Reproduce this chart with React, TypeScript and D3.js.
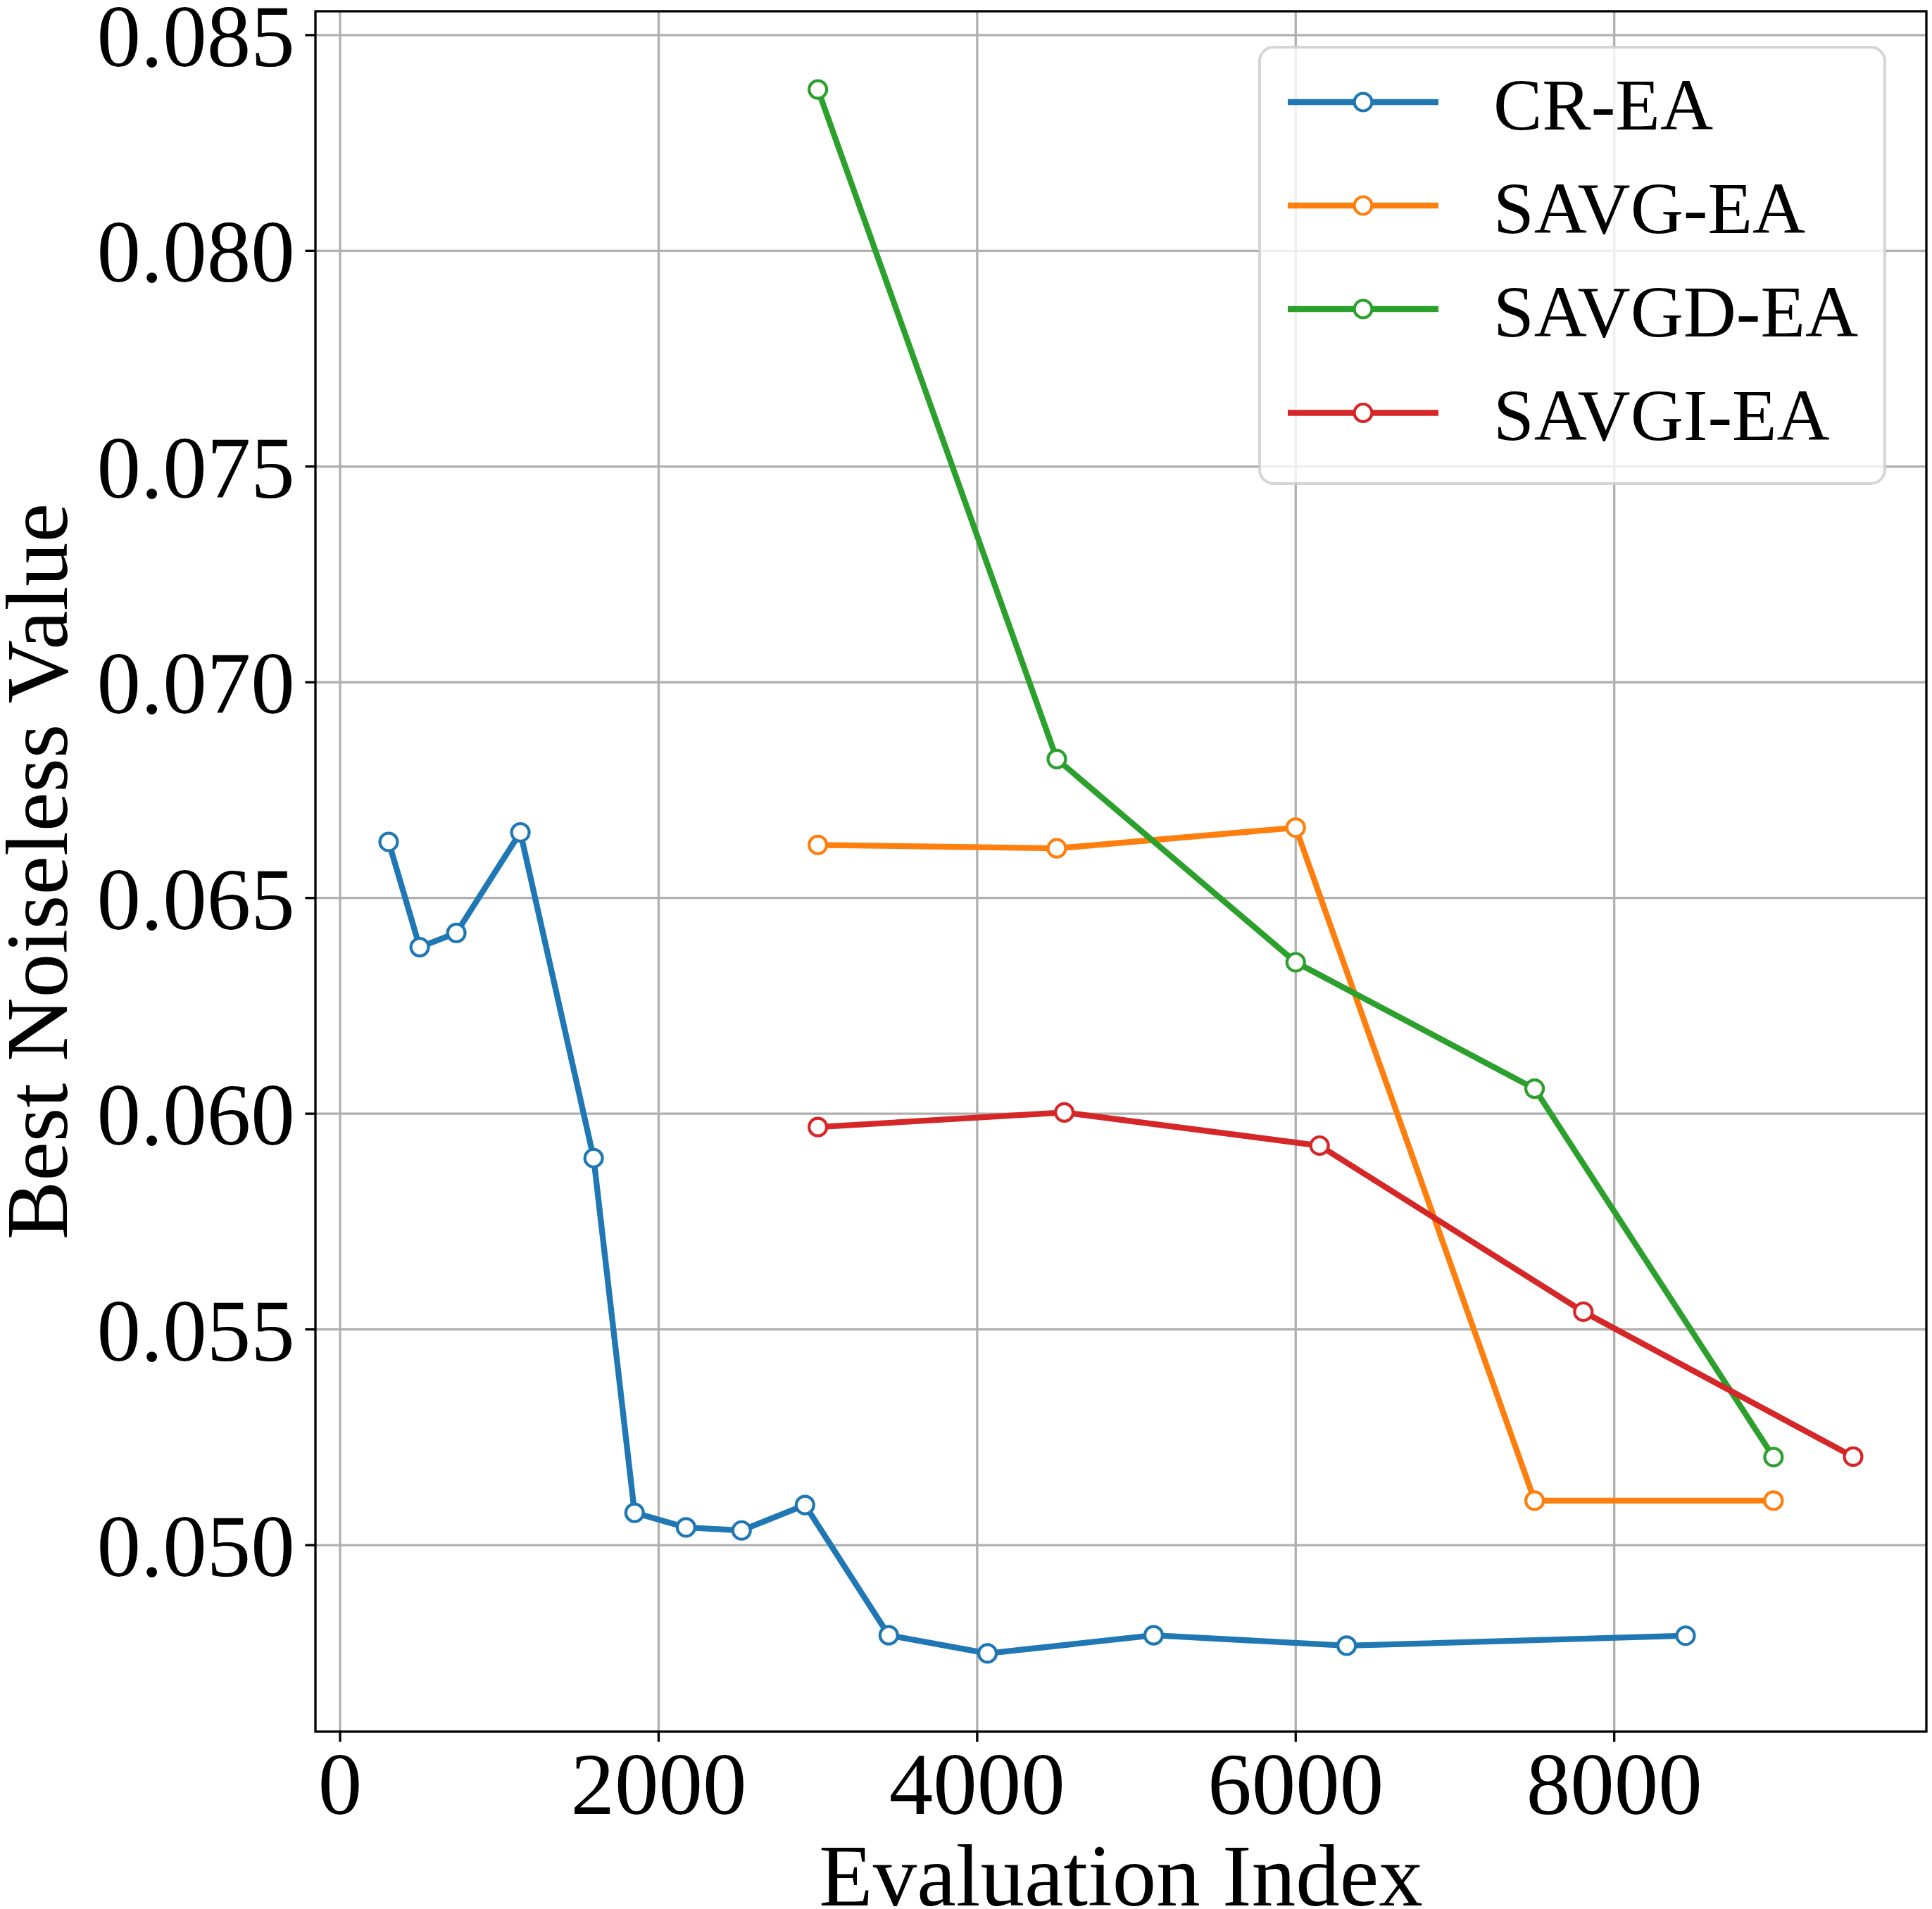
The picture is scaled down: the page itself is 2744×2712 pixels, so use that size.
import React from "react";
import * as d3 from "d3";

const seriesNames = ["CR-EA", "SAVG-EA", "SAVGD-EA", "SAVGI-EA"];
const seriesColors = ["#1f77b4", "#ff7f0e", "#2ca02c", "#d62728"];

const crX = [305, 500, 730, 1132, 1592, 1849, 2172, 2521, 2919, 3445, 4065, 5108, 6320, 8448];
const crY = [0.06630, 0.06386, 0.06419, 0.06652, 0.05897, 0.05075, 0.05041, 0.05034, 0.05093, 0.04791, 0.04749, 0.04791, 0.04767, 0.04790];

const savgX = [3000, 4500, 6000, 7500, 9000];
const savgY = [0.06623, 0.06615, 0.06663, 0.05103, 0.05103];

const savgdX = [3000, 4500, 6000, 7500, 9000];
const savgdY = [0.08374, 0.06822, 0.06351, 0.06058, 0.05204];

const savgiX = [3000, 4547, 6150, 7806, 9500];
const savgiY = [0.05969, 0.06003, 0.05926, 0.05541, 0.05205];

const xTicks = [0, 2000, 4000, 6000, 8000];
const yTicks = [0.05, 0.055, 0.06, 0.065, 0.07, 0.075, 0.08, 0.085];

const xLabel = "Evaluation Index";
const yLabel = "Best Noiseless Value";

const W = 2744;
const H = 2712;
const L = 448, R = 2736, T = 16, B = 2460;
const FONT = "'Liberation Serif', 'Times New Roman', Times, serif";

function padded(vals: number[]): [number, number] {
  const [a, b] = d3.extent(vals) as [number, number];
  const p = (b - a) * 0.05;
  return [a - p, b + p];
}

export default function App() {
  const xsAll = [...crX, ...savgX, ...savgdX, ...savgiX];
  const ysAll = [...crY, ...savgY, ...savgdY, ...savgiY];
  const x = d3.scaleLinear().domain(padded(xsAll)).range([L, R]);
  const y = d3.scaleLinear().domain(padded(ysAll)).range([B, T]);

  const series = [
    { xs: crX, ys: crY },
    { xs: savgX, ys: savgY },
    { xs: savgdX, ys: savgdY },
    { xs: savgiX, ys: savgiY },
  ];

  const line = d3
    .line<[number, number]>()
    .x((d) => x(d[0]))
    .y((d) => y(d[1]));

  const fmtY = d3.format(".3f");
  const tickLen = 14.6;
  const lw = 8.33;
  const mr = 12.5;
  const mew = 4.17;

  const legX = 1789, legY = 67, legW = 888, legH = 620;
  const rowY = [145, 292, 439, 586.5];

  return (
    <div style={{ position: "absolute", left: 0, top: 0 }}>
      <svg width={W} height={H} xmlns="http://www.w3.org/2000/svg" style={{ display: "block", background: "#fff" }}>
        <rect x={0} y={0} width={W} height={H} fill="#fff" />
        <defs>
          <clipPath id="plotclip">
            <rect x={L} y={T} width={R - L} height={B - T} />
          </clipPath>
        </defs>
        {/* grid */}
        <g stroke="#b0b0b0" strokeWidth={3.3}>
          {xTicks.map((t) => (
            <line key={"gx" + t} x1={x(t)} x2={x(t)} y1={T} y2={B} />
          ))}
          {yTicks.map((t) => (
            <line key={"gy" + t} x1={L} x2={R} y1={y(t)} y2={y(t)} />
          ))}
        </g>
        {/* series */}
        <g clipPath="url(#plotclip)">
          {series.map((s, i) => {
            const pts = s.xs.map((v, j) => [v, s.ys[j]] as [number, number]);
            return (
              <g key={seriesNames[i]}>
                <path d={line(pts) || ""} fill="none" stroke={seriesColors[i]} strokeWidth={lw} strokeLinejoin="round" strokeLinecap="square" />
                {pts.map((p, j) => (
                  <circle key={j} cx={x(p[0])} cy={y(p[1])} r={mr} fill="#fff" stroke={seriesColors[i]} strokeWidth={mew} />
                ))}
              </g>
            );
          })}
        </g>
        {/* spines */}
        <rect x={L} y={T} width={R - L} height={B - T} fill="none" stroke="#000" strokeWidth={3.3} strokeLinejoin="miter" />
        {/* x ticks */}
        <g>
          {xTicks.map((t) => (
            <g key={"xt" + t}>
              <line x1={x(t)} x2={x(t)} y1={B} y2={B + tickLen} stroke="#000" strokeWidth={3.3} />
              <text x={x(t)} y={2577} textAnchor="middle" fontFamily={FONT} fontSize={125} fill="#000">
                {String(t)}
              </text>
            </g>
          ))}
        </g>
        {/* y ticks */}
        <g>
          {yTicks.map((t) => (
            <g key={"yt" + t}>
              <line x1={L - tickLen} x2={L} y1={y(t)} y2={y(t)} stroke="#000" strokeWidth={3.3} />
              <text x={L - tickLen - 14.6} y={y(t) + 44} textAnchor="end" fontFamily={FONT} fontSize={125} fill="#000">
                {fmtY(t)}
              </text>
            </g>
          ))}
        </g>
        {/* axis labels */}
        <text x={(L + R) / 2} y={2707} textAnchor="middle" fontFamily={FONT} fontSize={125} fill="#000">
          {xLabel}
        </text>
        <text transform={`translate(95, ${(T + B) / 2}) rotate(-90)`} textAnchor="middle" fontFamily={FONT} fontSize={125} fill="#000">
          {yLabel}
        </text>
        {/* legend */}
        <g>
          <rect x={legX} y={legY} width={legW} height={legH} rx={20} ry={20} fill="#fff" fillOpacity={0.8} stroke="#cccccc" strokeOpacity={0.8} strokeWidth={4.17} />
          {seriesNames.map((n, i) => (
            <g key={"leg" + n}>
              <line x1={1829} x2={2043} y1={rowY[i]} y2={rowY[i]} stroke={seriesColors[i]} strokeWidth={lw} />
              <circle cx={1936} cy={rowY[i]} r={mr} fill="#fff" stroke={seriesColors[i]} strokeWidth={mew} />
              <text x={2121} y={rowY[i] + 38.5} fontFamily={FONT} fontSize={104} fill="#000">
                {n}
              </text>
            </g>
          ))}
        </g>
      </svg>
    </div>
  );
}
